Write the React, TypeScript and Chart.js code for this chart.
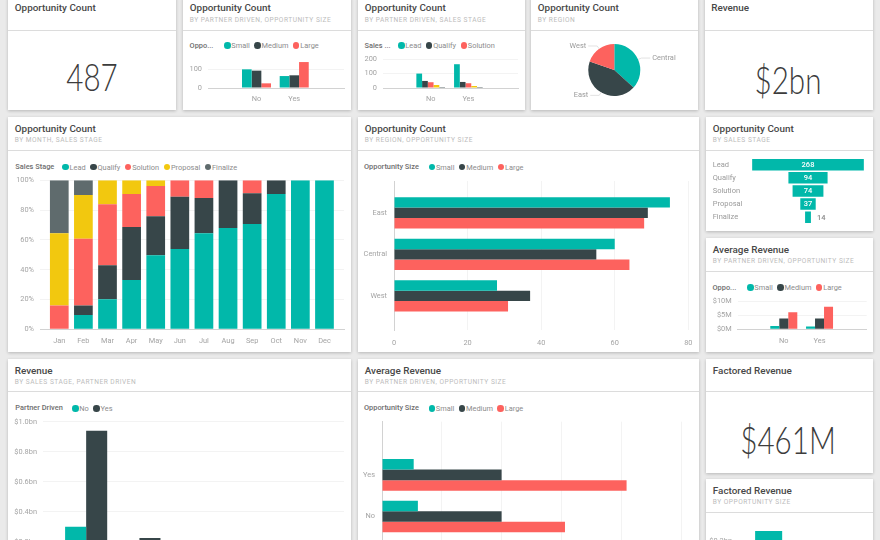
import { useEffect, useRef } from "react";
import { Chart, registerables } from "chart.js";

Chart.register(...registerables);

const TEAL = "#01B8AA";
const DARK = "#374649";
const RED = "#FD625E";
const YELLOW = "#F2C80F";
const GREY = "#5F6B6D";

const FONT = "Roboto, sans-serif";
const TICK_COLOR = "#a4a4a4";
const GRID_COLOR = "#f3f3f3";
const AXIS_COLOR = "#d2d2d2";
const TICK_SIZE = 7.4;

const sizeNames = ["Small", "Medium", "Large"];
const sizeColors = [TEAL, DARK, RED];
const stageNames = ["Lead", "Qualify", "Solution", "Proposal", "Finalize"];
const stageColors = [TEAL, DARK, RED, YELLOW, GREY];

const partnerCats = ["No", "Yes"];
const countSmall = [100, 64];
const countMedium = [93, 68];
const countLarge = [25, 139];
const countTicks = [0, 100];

const stageLead = [100, 165];
const stageQualify = [49, 42];
const stageSolution = [40, 33];
const stageProposal = [21, 14];
const stageFinalize = [7, 7];
const stageTicks = [0, 100, 200];

const regionNames = ["Central", "East", "West"];
const regionCounts = [179, 212, 96];

const months = ["Jan", "Feb", "Mar", "Apr", "May", "Jun", "Jul", "Aug", "Sep", "Oct", "Nov", "Dec"];
const monthLead = [0, 9.6, 20.1, 33.1, 49.7, 53.9, 64.4, 68, 70.7, 90.8, 100, 100];
const monthQualify = [0, 6.3, 22.9, 35.6, 26.1, 35.1, 23.7, 32, 20.6, 9.2, 0, 0];
const monthSolution = [15.9, 44.9, 40.9, 22.1, 20.4, 11, 11.9, 0, 8.7, 0, 0, 0];
const monthProposal = [48.5, 29.4, 16.1, 9.2, 3.8, 0, 0, 0, 0, 0, 0, 0];
const monthFinalize = [35.6, 9.8, 0, 0, 0, 0, 0, 0, 0, 0, 0, 0];
const percentTicks = [0, 20, 40, 60, 80, 100];

const byRegionCats = ["East", "Central", "West"];
const byRegionSmall = [75, 60, 28];
const byRegionMedium = [69, 55, 37];
const byRegionLarge = [68, 64, 31];
const byRegionTicks = [0, 20, 40, 60, 80];

const funnelValues = [268, 94, 74, 37, 14];

const avgSmall = [1.2, 1];
const avgMedium = [3.9, 3.9];
const avgLarge = [6.1, 8.1];
const avgTicks = [0, 5, 10];

const revenueStages = ["Lead", "Qualify", "Solution", "Proposal", "Finalize"];
const revenueNo = [0.3, 0.15, 0.12, 0.06, 0.02];
const revenueYes = [0.94, 0.225, 0.16, 0.09, 0.03];
const revenueTicks = [0, 0.2, 0.4, 0.6, 0.8, 1];

const avgHorizCats = ["Yes", "No"];
const avgHorizSmall = [1.06, 1.2];
const avgHorizMedium = [4, 4];
const avgHorizLarge = [8.18, 6.12];
const avgHorizTicks = [0, 2, 4, 6, 8, 10];

const factoredCats = ["Small", "Medium", "Large"];
const factoredValues = [0.24, 0.15, 0.07];
const factoredTicks = [0, 0.1, 0.2];

type Rect = { x: number; y: number; w: number; h: number };
type Plot = { l: number; t: number; r: number; b: number };

// canvas sits at page coords, plot is the wanted chart area in page coords
function useChart(rect: Rect, plot: Plot, config: any, leftPad = 0) {
  const ref = useRef<HTMLCanvasElement | null>(null);
  useEffect(() => {
    if (!ref.current) return;
    const { options = {} } = config;
    const leftW = plot.l - rect.x - leftPad;
    const bottomH = rect.y + rect.h - plot.b;
    const scales = options.scales;
    // labels must not push the chart area around, the plot box is fixed
    const fitX = (s: any) => { s.height = bottomH; s.paddingLeft = 0; s.paddingRight = 0; };
    const fitY = (s: any) => { s.width = leftW; s.paddingTop = 0; s.paddingBottom = 0; };
    const chart = new Chart(ref.current, {
      ...config,
      options: {
        responsive: false,
        animation: false,
        maintainAspectRatio: false,
        events: [],
        layout: {
          padding: { left: leftPad, top: plot.t - rect.y, right: rect.x + rect.w - plot.r, bottom: 0 },
        },
        ...options,
        scales: {
          x: { ...scales.x, afterFit: fitX },
          y: { ...scales.y, afterFit: fitY },
        },
        plugins: { legend: { display: false }, tooltip: { enabled: false } },
      },
    });
    return () => chart.destroy();
  }, []);
  return ref;
}

// index axis: categories sit at 0,1,2.. on a linear scale so the groups can leave the empty margin
function catAxis(cats: string[], min: number, max: number, extra: any = {}) {
  return {
    type: "linear",
    min,
    max,
    offset: false,
    stacked: extra.stacked,
    reverse: extra.reverse,
    afterBuildTicks: (s: any) => { s.ticks = cats.map((_, i) => ({ value: i })); },
    grid: { display: false, drawTicks: false },
    border: { display: true, color: AXIS_COLOR },
    ticks: {
      callback: (v: number) => cats[v],
      autoSkip: false,
      maxRotation: 0,
      padding: extra.padding ?? 7,
      color: TICK_COLOR,
      font: { family: FONT, size: TICK_SIZE },
    },
  };
}

function valueAxis(ticks: number[], min: number, max: number, fmt: (v: number) => string, extra: any = {}) {
  return {
    type: "linear",
    min,
    max,
    stacked: extra.stacked,
    afterBuildTicks: (s: any) => { s.ticks = ticks.map((value) => ({ value })); },
    grid: { color: GRID_COLOR, drawTicks: false, lineWidth: 1 },
    border: { display: false },
    ticks: {
      callback: (v: number) => fmt(v),
      autoSkip: false,
      maxRotation: 0,
      padding: extra.padding ?? 6,
      color: TICK_COLOR,
      font: { family: FONT, size: TICK_SIZE },
    },
  };
}

function sets(series: number[][], colors: string[], names: string[], groupPct: number) {
  return series.map((data, i) => ({
    label: names[i],
    data,
    backgroundColor: colors[i],
    borderWidth: 0,
    categoryPercentage: groupPct,
    barPercentage: 1,
  }));
}

function ColumnChart(props: {
  rect: Rect; plot: Plot; cats: string[]; range: [number, number];
  series: number[][]; colors: string[]; names: string[];
  ticks: number[]; vmax: number; fmt: (v: number) => string; groupPct: number;
  stacked?: boolean;
}) {
  const { rect, plot, cats, range, series, colors, names, ticks, vmax, fmt, groupPct, stacked } = props;
  const ref = useChart(rect, plot, {
    type: "bar",
    data: { labels: cats.map((_, i) => i), datasets: sets(series, colors, names, groupPct) },
    options: {
      scales: {
        x: catAxis(cats, range[0], range[1], { stacked }),
        y: valueAxis(ticks, 0, vmax, fmt, { stacked }),
      },
    },
  });
  return <canvas ref={ref} width={rect.w} height={rect.h} style={canvasStyle(rect)} />;
}

function RowChart(props: {
  rect: Rect; plot: Plot; cats: string[]; range: [number, number];
  series: number[][]; colors: string[]; names: string[];
  ticks: number[]; vmax: number; fmt: (v: number) => string; groupPct: number;
}) {
  const { rect, plot, cats, range, series, colors, names, ticks, vmax, fmt, groupPct } = props;
  const ref = useChart(rect, plot, {
    type: "bar",
    data: { labels: cats.map((_, i) => i), datasets: sets(series, colors, names, groupPct) },
    options: {
      indexAxis: "y",
      scales: {
        x: valueAxis(ticks, 0, vmax, fmt, { padding: 9 }),
        y: catAxis(cats, range[0], range[1], { reverse: true }),
      },
    },
  });
  return <canvas ref={ref} width={rect.w} height={rect.h} style={canvasStyle(rect)} />;
}

const funnelLabels = {
  id: "funnelLabels",
  afterDatasetsDraw(chart: any) {
    const { ctx } = chart;
    const meta = chart.getDatasetMeta(0);
    ctx.save();
    ctx.font = `500 7.5px ${FONT}`;
    ctx.textBaseline = "middle";
    meta.data.forEach((bar: any, i: number) => {
      const v = funnelValues[i];
      const inside = bar.width > 14;
      ctx.fillStyle = inside ? "#ffffff" : "#8a8a8a";
      ctx.textAlign = inside ? "center" : "left";
      const px = inside ? chart.scales.x.getPixelForValue(0) : bar.x + 6;
      ctx.fillText(String(v), px, bar.y + 0.5);
    });
    ctx.restore();
  },
};

function FunnelChart({ rect, plot }: { rect: Rect; plot: Plot }) {
  const ref = useChart(rect, plot, {
    type: "bar",
    data: {
      labels: stageNames,
      datasets: [
        {
          data: funnelValues.map((v) => [-v / 2, v / 2]),
          backgroundColor: TEAL,
          borderWidth: 0,
          categoryPercentage: 0.88,
          barPercentage: 1,
        },
      ],
    },
    options: {
      indexAxis: "y",
      scales: {
        x: { display: false, min: -144, max: 144 },
        y: {
          grid: { display: false, drawTicks: false },
          border: { display: false },
          ticks: { crossAlign: "far", color: "#9a9a9a", padding: 0, font: { family: FONT, size: 7.5 } },
        },
      },
    },
    plugins: [funnelLabels],
  }, 6.7);
  return <canvas ref={ref} width={rect.w} height={rect.h} style={canvasStyle(rect)} />;
}

const pieLabels = {
  id: "pieLabels",
  afterDatasetsDraw(chart: any) {
    const { ctx } = chart;
    const arcs = chart.getDatasetMeta(0).data;
    ctx.save();
    ctx.font = `${TICK_SIZE}px ${FONT}`;
    ctx.textBaseline = "middle";
    arcs.forEach((arc: any, i: number) => {
      const mid = (arc.startAngle + arc.endAngle) / 2;
      const ex = arc.x + Math.cos(mid) * (arc.outerRadius + 3.5);
      const ey = arc.y + Math.sin(mid) * (arc.outerRadius + 3.5);
      const right = Math.cos(mid) >= 0;
      const hx = ex + (right ? 9 : -9);
      ctx.strokeStyle = "#e2e2e2";
      ctx.lineWidth = 1;
      ctx.beginPath();
      ctx.moveTo(arc.x + Math.cos(mid) * arc.outerRadius, arc.y + Math.sin(mid) * arc.outerRadius);
      ctx.lineTo(ex, ey);
      ctx.lineTo(hx, ey);
      ctx.stroke();
      ctx.fillStyle = "#9a9a9a";
      ctx.textAlign = right ? "left" : "right";
      ctx.fillText(regionNames[i], hx + (right ? 2 : -2), ey);
    });
    ctx.restore();
  },
};

function PieChart({ rect }: { rect: Rect }) {
  const cx = 614.3 - rect.x;
  const cy = 70 - rect.y;
  const r = 26;
  const ref = useRef<HTMLCanvasElement | null>(null);
  useEffect(() => {
    if (!ref.current) return;
    const chart = new Chart(ref.current, {
      type: "pie",
      data: {
        labels: regionNames,
        datasets: [{ data: regionCounts, backgroundColor: [TEAL, DARK, RED], borderWidth: 0 }],
      },
      options: {
        responsive: false,
        animation: false,
        events: [],
        layout: {
          padding: { left: cx - r, top: cy - r, right: rect.w - cx - r, bottom: rect.h - cy - r },
        },
        plugins: { legend: { display: false }, tooltip: { enabled: false } },
      },
      plugins: [pieLabels],
    } as any);
    return () => chart.destroy();
  }, []);
  return <canvas ref={ref} width={rect.w} height={rect.h} style={canvasStyle(rect)} />;
}

function canvasStyle(r: Rect): React.CSSProperties {
  return { position: "absolute", left: r.x, top: r.y, width: r.w, height: r.h };
}

function Card({ x, y, w, h, head, title, sub }: { x: number; y: number; w: number; h: number; head: number; title: string; sub?: string }) {
  return (
    <>
      <div style={{ position: "absolute", left: x, top: y, width: w, height: h, background: "#fff", boxShadow: "0 1px 3px rgba(0,0,0,0.22)" }} />
      <div style={{ position: "absolute", left: x, top: y + head, width: w, height: 1, background: "#dcdcdc" }} />
      <div style={{ position: "absolute", left: x + 6.8, top: y + 4.5, font: `500 9.9px ${FONT}`, lineHeight: "14px", color: "#484848", whiteSpace: "nowrap" }}>{title}</div>
      {sub && (
        <div style={{ position: "absolute", left: x + 6.8, top: y + 17, font: `400 6.6px ${FONT}`, lineHeight: "12px", letterSpacing: 0.5, color: "#bcbcbc", whiteSpace: "nowrap" }}>{sub}</div>
      )}
    </>
  );
}

function Legend({ x, y, dotX, title, names, colors }: { x: number; y: number; dotX: number; title: string; names: string[]; colors: string[] }) {
  return (
    <>
      <div style={{ position: "absolute", left: x, top: y - 6, font: `500 7.4px ${FONT}`, lineHeight: "12px", color: "#6e6e6e", whiteSpace: "nowrap" }}>{title}</div>
      <div style={{ position: "absolute", left: dotX, top: y - 6, height: 12, display: "flex", alignItems: "center", font: `400 7.4px ${FONT}`, color: "#8c8c8c", whiteSpace: "nowrap" }}>
        {names.map((n, i) => (
          <span key={n} style={{ display: "flex", alignItems: "center", marginRight: 4.5 }}>
            <span style={{ width: 6.5, height: 6.5, borderRadius: "50%", background: colors[i], marginRight: 0.8 }} />
            {n}
          </span>
        ))}
      </div>
    </>
  );
}

function BigNumber({ cx, cy, text }: { cx: number; cy: number; text: string }) {
  return (
    <div style={{ position: "absolute", left: cx - 70, top: cy - 25, width: 140, height: 50, lineHeight: "50px", textAlign: "center", font: `300 37px Lato, sans-serif`, color: "#3c3c3c", transform: "scaleX(0.8)" }}>{text}</div>
  );
}

const pct = (v: number) => `${v}%`;
const plain = (v: number) => `${v}`;
const money = (v: number) => `$${v}M`;
const bn = (v: number) => `$${v.toFixed(1)}bn`;

export default function App() {
  return (
    <div style={{ position: "absolute", left: 0, top: 0, width: 880, height: 540, overflow: "hidden", background: "#eaeaea", filter: "blur(0.35px)" }}>
      <Card x={8} y={-3.5} w={168} h={113.5} head={33} title="Opportunity Count" />
      <BigNumber cx={92} cy={79} text="487" />

      <Card x={183} y={-3.5} w={168} h={113.5} head={33} title="Opportunity Count" sub="BY PARTNER DRIVEN, OPPORTUNITY SIZE" />
      <Legend x={189.6} y={45.7} dotX={224} title="Oppo..." names={sizeNames} colors={sizeColors} />
      <ColumnChart
        rect={{ x: 183, y: 52, w: 168, h: 58 }}
        plot={{ l: 208, t: 60, r: 344, b: 88 }}
        cats={partnerCats}
        range={[-1.286, 2.32]}
        series={[countSmall, countMedium, countLarge]}
        colors={sizeColors}
        names={sizeNames}
        ticks={countTicks}
        vmax={150}
        fmt={plain}
        groupPct={0.77}
      />

      <Card x={358} y={-3.5} w={167} h={113.5} head={33} title="Opportunity Count" sub="BY PARTNER DRIVEN, SALES STAGE" />
      <Legend x={364.5} y={45.7} dotX={398} title="Sales ..." names={stageNames.slice(0, 3)} colors={stageColors} />
      <ColumnChart
        rect={{ x: 358, y: 52, w: 167, h: 58 }}
        plot={{ l: 383, t: 56, r: 518, b: 88 }}
        cats={partnerCats}
        range={[-1.265, 2.316]}
        series={[stageLead, stageQualify, stageSolution, stageProposal, stageFinalize]}
        colors={stageColors}
        names={stageNames}
        ticks={stageTicks}
        vmax={222}
        fmt={plain}
        groupPct={0.76}
      />

      <Card x={531} y={-3.5} w={167} h={113.5} head={33} title="Opportunity Count" sub="BY REGION" />
      <PieChart rect={{ x: 531, y: 30, w: 167, h: 80 }} />

      <Card x={704.5} y={-3.5} w={168} h={113.5} head={33} title="Revenue" />
      <BigNumber cx={788} cy={82} text="$2bn" />

      <Card x={8} y={117} w={343} h={235} head={33} title="Opportunity Count" sub="BY MONTH, SALES STAGE" />
      <Legend x={15.3} y={167} dotX={62.3} title="Sales Stage" names={stageNames} colors={stageColors} />
      <ColumnChart
        rect={{ x: 8, y: 172, w: 343, h: 180 }}
        plot={{ l: 40, t: 180.3, r: 344, b: 329.3 }}
        cats={months}
        range={[-0.8, 11.81]}
        series={[monthLead, monthQualify, monthSolution, monthProposal, monthFinalize]}
        colors={stageColors}
        names={stageNames}
        ticks={percentTicks}
        vmax={100}
        fmt={pct}
        groupPct={0.776}
        stacked
      />

      <Card x={358} y={117} w={341} h={235} head={33} title="Opportunity Count" sub="BY REGION, OPPORTUNITY SIZE" />
      <Legend x={364} y={167} dotX={428.7} title="Opportunity Size" names={sizeNames} colors={sizeColors} />
      <RowChart
        rect={{ x: 358, y: 172, w: 341, h: 180 }}
        plot={{ l: 394, t: 181, r: 688.3, b: 330 }}
        cats={byRegionCats}
        range={[-0.765, 2.82]}
        series={[byRegionSmall, byRegionMedium, byRegionLarge]}
        colors={sizeColors}
        names={sizeNames}
        ticks={byRegionTicks}
        vmax={80}
        fmt={plain}
        groupPct={0.75}
      />

      <Card x={706} y={117} w={167} h={114} head={33} title="Opportunity Count" sub="BY SALES STAGE" />
      <FunnelChart rect={{ x: 706, y: 151, w: 167, h: 80 }} plot={{ l: 748, t: 158.1, r: 868, b: 223.8 }} />

      <Card x={706} y={238.3} w={167} h={113.7} head={32.4} title="Average Revenue" sub="BY PARTNER DRIVEN, OPPORTUNITY SIZE" />
      <Legend x={712.5} y={287.5} dotX={747} title="Oppo..." names={sizeNames} colors={sizeColors} />
      <ColumnChart
        rect={{ x: 706, y: 293, w: 167, h: 59 }}
        plot={{ l: 737.7, t: 296, r: 866.7, b: 329.3 }}
        cats={partnerCats}
        range={[-1.29, 2.32]}
        series={[avgSmall, avgMedium, avgLarge]}
        colors={sizeColors}
        names={sizeNames}
        ticks={avgTicks}
        vmax={11.9}
        fmt={money}
        groupPct={0.756}
      />

      <Card x={8} y={359} w={343} h={200} head={32} title="Revenue" sub="BY SALES STAGE, PARTNER DRIVEN" />
      <Legend x={15.3} y={408.3} dotX={72} title="Partner Driven" names={["No", "Yes"]} colors={[TEAL, DARK]} />
      <ColumnChart
        rect={{ x: 8, y: 413, w: 343, h: 190 }}
        plot={{ l: 43, t: 421.7, r: 344, b: 571.7 }}
        cats={revenueStages}
        range={[-0.81, 4.84]}
        series={[revenueNo, revenueYes]}
        colors={[TEAL, DARK]}
        names={["No", "Yes"]}
        ticks={revenueTicks}
        vmax={1}
        fmt={bn}
        groupPct={0.79}
      />

      <Card x={358} y={359} w={341} h={200} head={32} title="Average Revenue" sub="BY PARTNER DRIVEN, OPPORTUNITY SIZE" />
      <Legend x={364} y={408.3} dotX={428.5} title="Opportunity Size" names={sizeNames} colors={sizeColors} />
      <RowChart
        rect={{ x: 358, y: 413, w: 341, h: 190 }}
        plot={{ l: 382, t: 421.7, r: 681, b: 570 }}
        cats={avgHorizCats}
        range={[-1.28, 2.29]}
        series={[avgHorizSmall, avgHorizMedium, avgHorizLarge]}
        colors={sizeColors}
        names={sizeNames}
        ticks={avgHorizTicks}
        vmax={10}
        fmt={money}
        groupPct={0.76}
      />

      <Card x={706} y={359} w={167} h={113.7} head={32} title="Factored Revenue" />
      <BigNumber cx={787.7} cy={442} text="$461M" />

      <Card x={706} y={479.3} w={167} h={100} head={32.7} title="Factored Revenue" sub="BY OPPORTUNITY SIZE" />
      <ColumnChart
        rect={{ x: 706, y: 514, w: 167, h: 100 }}
        plot={{ l: 738, t: 521, r: 866, b: 591 }}
        cats={factoredCats}
        range={[-0.85, 2.7]}
        series={[factoredValues]}
        colors={[TEAL]}
        names={["Factored Revenue"]}
        ticks={factoredTicks}
        vmax={0.28}
        fmt={bn}
        groupPct={0.75}
      />
    </div>
  );
}
